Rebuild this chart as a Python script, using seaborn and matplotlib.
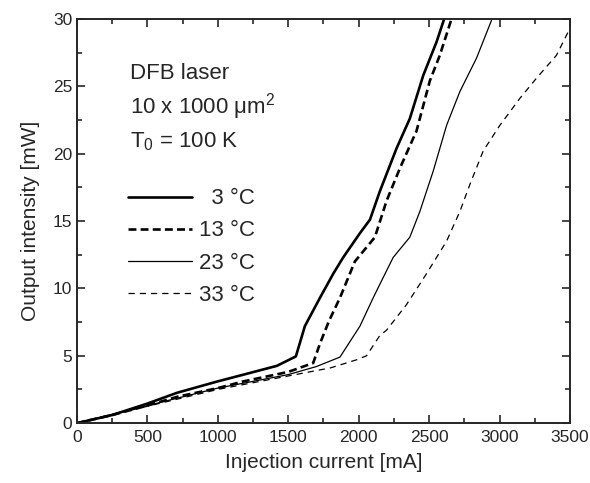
import numpy as np
import pandas as pd
import matplotlib
matplotlib.use("Agg")
import matplotlib.pyplot as plt
import seaborn as sns
from matplotlib.ticker import MultipleLocator

# --------------------------------------
# data
# --------------------------------------
cur_3 = [0, 250, 500, 710, 1000, 1183, 1419, 1554, 1618, 1725, 1820, 1890, 2009, 2080, 2150, 2269, 2363, 2458, 2553, 2607]
pow_3 = [0, 0.6, 1.45, 2.25, 3.1, 3.6, 4.25, 4.95, 7.2, 9.3, 11.1, 12.3, 14.1, 15.1, 17.2, 20.4, 22.6, 25.8, 28.3, 30.0]

cur_13 = [0, 250, 500, 710, 1000, 1183, 1500, 1677, 1725, 1790, 1867, 1973, 2115, 2198, 2292, 2411, 2505, 2576, 2659]
pow_13 = [0, 0.6, 1.3, 1.95, 2.6, 3.1, 3.8, 4.46, 5.9, 7.6, 9.3, 12.0, 13.8, 16.5, 18.9, 21.7, 25.4, 27.3, 30.0]

cur_23 = [0, 500, 1000, 1500, 1700, 1867, 2009, 2103, 2150, 2245, 2363, 2434, 2529, 2624, 2718, 2837, 2943]
pow_23 = [0, 1.3, 2.6, 3.6, 4.2, 4.9, 7.2, 9.3, 10.3, 12.3, 13.8, 15.7, 18.7, 22.1, 24.6, 27.1, 29.9]

cur_33 = [0, 500, 1000, 1500, 1800, 1985, 2056, 2150, 2198, 2340, 2482, 2624, 2718, 2789, 2884, 3002, 3144, 3262, 3404, 3500]
pow_33 = [0, 1.25, 2.5, 3.5, 4.1, 4.7, 5.0, 6.5, 6.9, 8.8, 11.1, 13.5, 15.7, 17.7, 20.2, 22.1, 24.1, 25.6, 27.3, 29.3]

labels = ["\u20073 °C", "13 °C", "23 °C", "33 °C"]

# --------------------------------------
# style
# --------------------------------------
sns.set_style("ticks")
plt.rcParams["font.family"] = ["Liberation Sans Narrow", "Liberation Sans", "DejaVu Sans"]
plt.rcParams["mathtext.default"] = "regular"
plt.rcParams["xtick.direction"] = "in"
plt.rcParams["ytick.direction"] = "in"

fig = plt.figure(figsize=(5.9, 4.83), dpi=100)
ax = fig.add_axes([0.1305, 0.124, 0.8355, 0.8367])

series = [
    (cur_3, pow_3, dict(color="black", lw=1.9, ls="-")),
    (cur_13, pow_13, dict(color="black", lw=1.9, ls=(0, (3, 1.6)))),
    (cur_23, pow_23, dict(color="black", lw=0.9, ls="-")),
    (cur_33, pow_33, dict(color="black", lw=0.9, ls=(0, (5, 4)))),
]
for (x, y, kw), lab in zip(series, labels):
    df = pd.DataFrame({"current": x, "power": y})
    sns.lineplot(data=df, x="current", y="power", sort=False, estimator=None,
                 ax=ax, label=lab, **kw)

ax.set_xlim(0, 3500)
ax.set_ylim(0, 30)
ax.xaxis.set_major_locator(MultipleLocator(500))
ax.xaxis.set_minor_locator(MultipleLocator(250))
ax.yaxis.set_major_locator(MultipleLocator(5))
ax.yaxis.set_minor_locator(MultipleLocator(2.5))
ax.tick_params(which="both", top=True, right=True, width=1.2, labelsize=12.5)
ax.tick_params(which="major", length=6)
ax.tick_params(which="minor", length=3.5)
ax.tick_params(axis="x", pad=5)
for s in ax.spines.values():
    s.set_linewidth(1.4)

ax.set_xlabel("Injection current [mA]", fontsize=15, labelpad=6)
ax.set_ylabel("Output intensity [mW]", fontsize=15, labelpad=9)

ax.text(0.107, 0.852, "DFB laser", transform=ax.transAxes, fontsize=16)
ax.text(0.107, 0.767, "10 x 1000 μm$^2$", transform=ax.transAxes, fontsize=16)
ax.text(0.107, 0.682, "T$_0$ = 100 K", transform=ax.transAxes, fontsize=16)

leg = ax.legend(loc="upper left", bbox_to_anchor=(0.085, 0.603), frameon=False,
                fontsize=16, handlelength=2.9, handletextpad=0.3,
                labelspacing=0.5, borderaxespad=0)

fig.savefig("out.png", dpi=100)
